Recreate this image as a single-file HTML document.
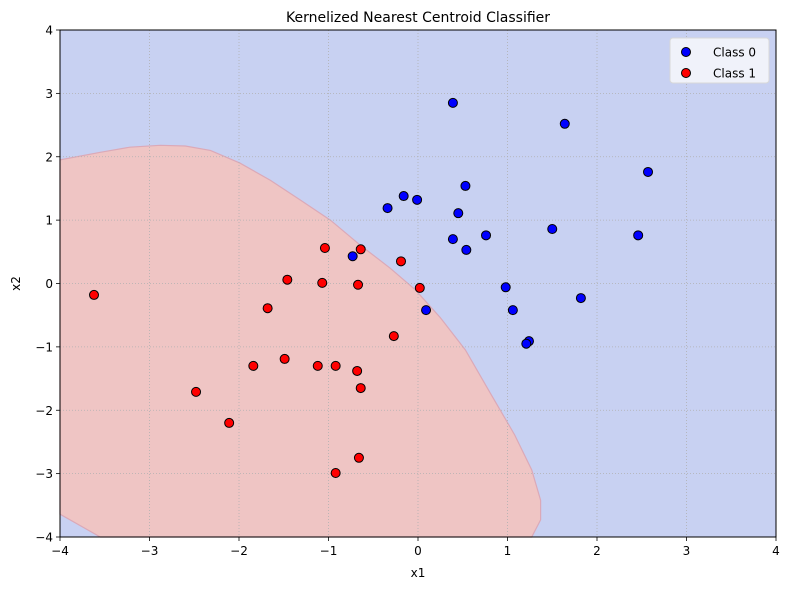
<!DOCTYPE html>
<html><head><meta charset="utf-8"><style>
body{margin:0;background:#fff;font-family:"DejaVu Sans","Liberation Sans",sans-serif;}
svg text{font-family:"DejaVu Sans","Liberation Sans",sans-serif;}
</style></head><body>
<svg id="chart" width="790" height="590" xmlns="http://www.w3.org/2000/svg">
<rect width="790" height="590" fill="#fff"/>
<g id="plot"></g>
</svg>
<script>
const xTicks=[-4,-3,-2,-1,0,1,2,3,4];
const yTicks=[-4,-3,-2,-1,0,1,2,3,4];
const class0X=[0.39,1.64,2.57,0.53,-0.16,-0.01,-0.34,0.45,1.50,2.46,0.76,0.39,0.54,-0.73,0.98,1.82,0.09,1.06,1.24,1.21];
const class0Y=[2.85,2.52,1.76,1.54,1.38,1.32,1.19,1.11,0.86,0.76,0.76,0.70,0.53,0.43,-0.06,-0.23,-0.42,-0.42,-0.91,-0.95];
const class1X=[-3.62,-1.04,-0.64,-0.19,-1.46,-1.07,-0.67,0.02,-1.68,-0.27,-1.49,-1.84,-1.12,-0.92,-0.68,-0.64,-2.48,-2.11,-0.66,-0.92];
const class1Y=[-0.18,0.56,0.54,0.35,0.06,0.01,-0.02,-0.07,-0.39,-0.83,-1.19,-1.30,-1.30,-1.30,-1.38,-1.65,-1.71,-2.20,-2.75,-2.99];
const regionX=[-4,-3.55,-3.22,-2.88,-2.6,-2.32,-1.99,-1.65,-1.32,-0.98,-0.65,-0.31,-0.03,0.25,0.53,0.8,1.08,1.27,1.37,1.37,1.27,-3.55,-4];
const regionY=[1.95,2.07,2.15,2.18,2.17,2.1,1.9,1.63,1.32,1.0,0.61,0.24,-0.1,-0.54,-1.05,-1.71,-2.39,-2.94,-3.42,-3.73,-4,-4,-3.64];
const L=60,R=776,T=30,B=537;
const sx=v=>L+(v+4)/8*(R-L);
const sy=v=>B-(v+4)/8*(B-T);
const NS='http://www.w3.org/2000/svg';
const g=document.getElementById('plot');
function mk(tag,attrs,parent){const e=document.createElementNS(NS,tag);for(const k in attrs)e.setAttribute(k,attrs[k]);(parent||g).appendChild(e);return e;}
let e;
e=mk('rect',{x:L,y:T,width:R-L,height:B-T,fill:'#c8d1f2'});


let d=regionX.map((x,i)=>(i?'L':'M')+sx(x).toFixed(1)+','+sy(regionY[i]).toFixed(1)).join(' ')+'Z';
e=mk('path',{d:d,fill:'#efc5c4',stroke:'#dba9b8','stroke-width':1.2});


xTicks.forEach(t=>{
 e=mk('line',{x1:sx(t),x2:sx(t),y1:T,y2:B,stroke:'#b0b0b0','stroke-width':0.8,'stroke-dasharray':'1,2'});
 
 
 mk('line',{x1:sx(t),x2:sx(t),y1:B,y2:B+4,stroke:'#000','stroke-width':0.8});
 e=mk('text',{x:sx(t),y:B+18,'text-anchor':'middle','font-size':12});e.textContent=String(t).replace('-','−');
 
 
});
yTicks.forEach(t=>{
 e=mk('line',{x1:L,x2:R,y1:sy(t),y2:sy(t),stroke:'#b0b0b0','stroke-width':0.8,'stroke-dasharray':'1,2'});
 
 
 mk('line',{x1:L-4,x2:L,y1:sy(t),y2:sy(t),stroke:'#000','stroke-width':0.8});
 e=mk('text',{x:L-7,y:sy(t)+4.5,'text-anchor':'end','font-size':12});e.textContent=String(t).replace('-','−');
 
 
});
class0X.forEach((x,i)=>{e=mk('circle',{cx:sx(x),cy:sy(class0Y[i]),r:4.5,fill:'#0000ff',stroke:'#000','stroke-width':1});
 
 });
class1X.forEach((x,i)=>{e=mk('circle',{cx:sx(x),cy:sy(class1Y[i]),r:4.5,fill:'#ff0000',stroke:'#000','stroke-width':1});
 
 });
e=mk('rect',{x:L,y:T,width:R-L,height:B-T,fill:'none',stroke:'#000','stroke-width':1});


e=mk('text',{x:(L+R)/2,y:22,'text-anchor':'middle','font-size':14});e.textContent='Kernelized Nearest Centroid Classifier';


e=mk('text',{x:(L+R)/2,y:577,'text-anchor':'middle','font-size':12});e.textContent='x1';


e=mk('text',{x:20,y:(T+B)/2,'text-anchor':'middle','font-size':12,transform:'rotate(-90 20 '+(T+B)/2+')'});e.textContent='x2';


const lg=mk('g',{});


mk('rect',{x:670,y:38,width:99,height:45,rx:3,fill:'#f4f5fb','fill-opacity':0.9,stroke:'#d8d8d8'},lg);
[['Class 0','#0000ff',52],['Class 1','#ff0000',73]].forEach(r=>{
 const eg=mk('g',{},lg);
 
 
 mk('circle',{cx:686,cy:r[2],r:4.5,fill:r[1],stroke:'#000'},eg);
 const t=mk('text',{x:713,y:r[2]+4.5,'font-size':12},eg);t.textContent=r[0];
});
</script>
</body></html>
